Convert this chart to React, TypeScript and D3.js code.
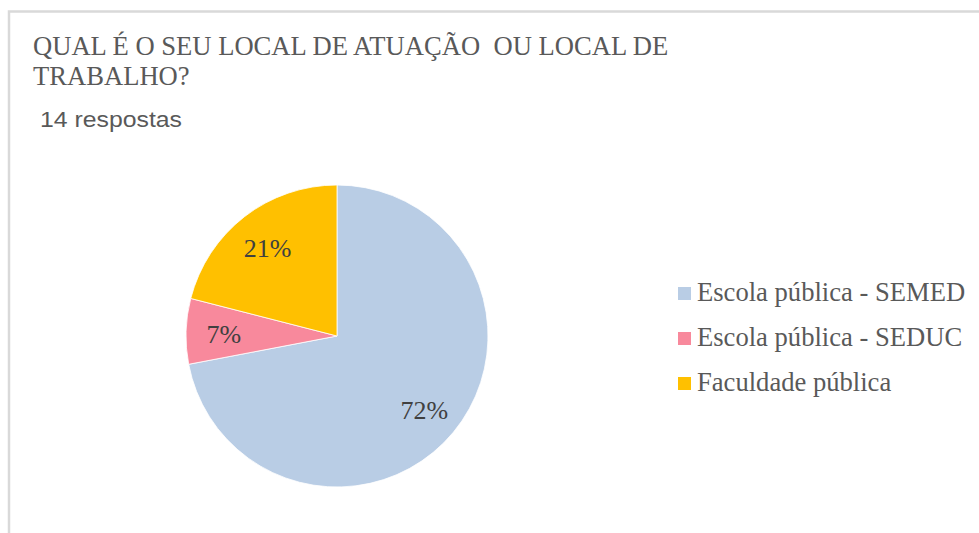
import * as d3 from 'd3';

const categories = ['Escola pública - SEMED', 'Escola pública - SEDUC', 'Faculdade pública'];
const shares = [72, 7, 21];
const colors = ['#B9CDE5', '#F8899C', '#FFC000'];
const titleLines = ['QUAL É O SEU LOCAL DE ATUAÇÃO  OU LOCAL DE', 'TRABALHO?'];
const subtitle = '14 respostas';

const width = 979;
const height = 533;
const serif = "'Liberation Serif', 'Times New Roman', Times, 'DejaVu Serif', serif";
const sans = "'Liberation Sans', Arial, sans-serif";

export default function App() {
  const cx = 337;
  const cy = 336;
  const r = 151;

  const pie = d3
    .pie<number>()
    .sort(null)
    .startAngle(0)
    .endAngle(2 * Math.PI)
    .value((d) => d);
  const arcs = pie(shares);
  const arc = d3.arc<d3.PieArcDatum<number>>().innerRadius(0).outerRadius(r);
  const labelArc = d3.arc<d3.PieArcDatum<number>>().innerRadius(r * 0.75).outerRadius(r * 0.75);

  // legend rows
  const legendY = d3.scalePoint<string>().domain(categories).range([292, 382]);

  return (
    <svg
      width={width}
      height={height}
      style={{ position: 'absolute', left: 0, top: 0, background: '#fff', display: 'block' }}
    >
      {/* chart frame */}
      <path d={`M9,${height} V11.5 H${width}`} fill="none" stroke="#d9d9d9" strokeWidth={2.5} />

      {/* Title */}
      <g style={{ fontFamily: serif, fontSize: 26.6 }} fill="#595959">
        {titleLines.map((t, i) => (
          <text key={i} x={33} y={55 + i * 30} style={{ whiteSpace: 'pre' }}>
            {t}
          </text>
        ))}
      </g>
      <text
        x={40}
        y={127}
        style={{ fontFamily: sans, fontSize: 21.5 }}
        fill="#595959"
        textLength={142}
        lengthAdjust="spacingAndGlyphs"
      >
        {subtitle}
      </text>

      {/* Pie */}
      <g transform={`translate(${cx},${cy})`}>
        {arcs.map((a, i) => (
          <path key={i} d={arc(a) ?? ''} fill={colors[i]} stroke="#fff" strokeWidth={0.8} />
        ))}
        {arcs.map((a, i) => {
          const [lx, ly] = labelArc.centroid(a);
          return (
            <text
              key={i}
              x={lx}
              y={ly + 2}
              textAnchor="middle"
              dominantBaseline="central"
              style={{ fontFamily: serif, fontSize: 26 }}
              fill="#404040"
            >
              {`${a.data}%`}
            </text>
          );
        })}
      </g>

      {/* Legend */}
      <g style={{ fontFamily: serif, fontSize: 26.6 }} fill="#595959">
        {categories.map((c, i) => {
          const y = legendY(c)!;
          return (
            <g key={c} transform={`translate(678,${y})`}>
              <rect x={0} y={-5} width={13} height={13} fill={colors[i]} />
              <text x={19} y={0} dominantBaseline="central">
                {c}
              </text>
            </g>
          );
        })}
      </g>
    </svg>
  );
}
